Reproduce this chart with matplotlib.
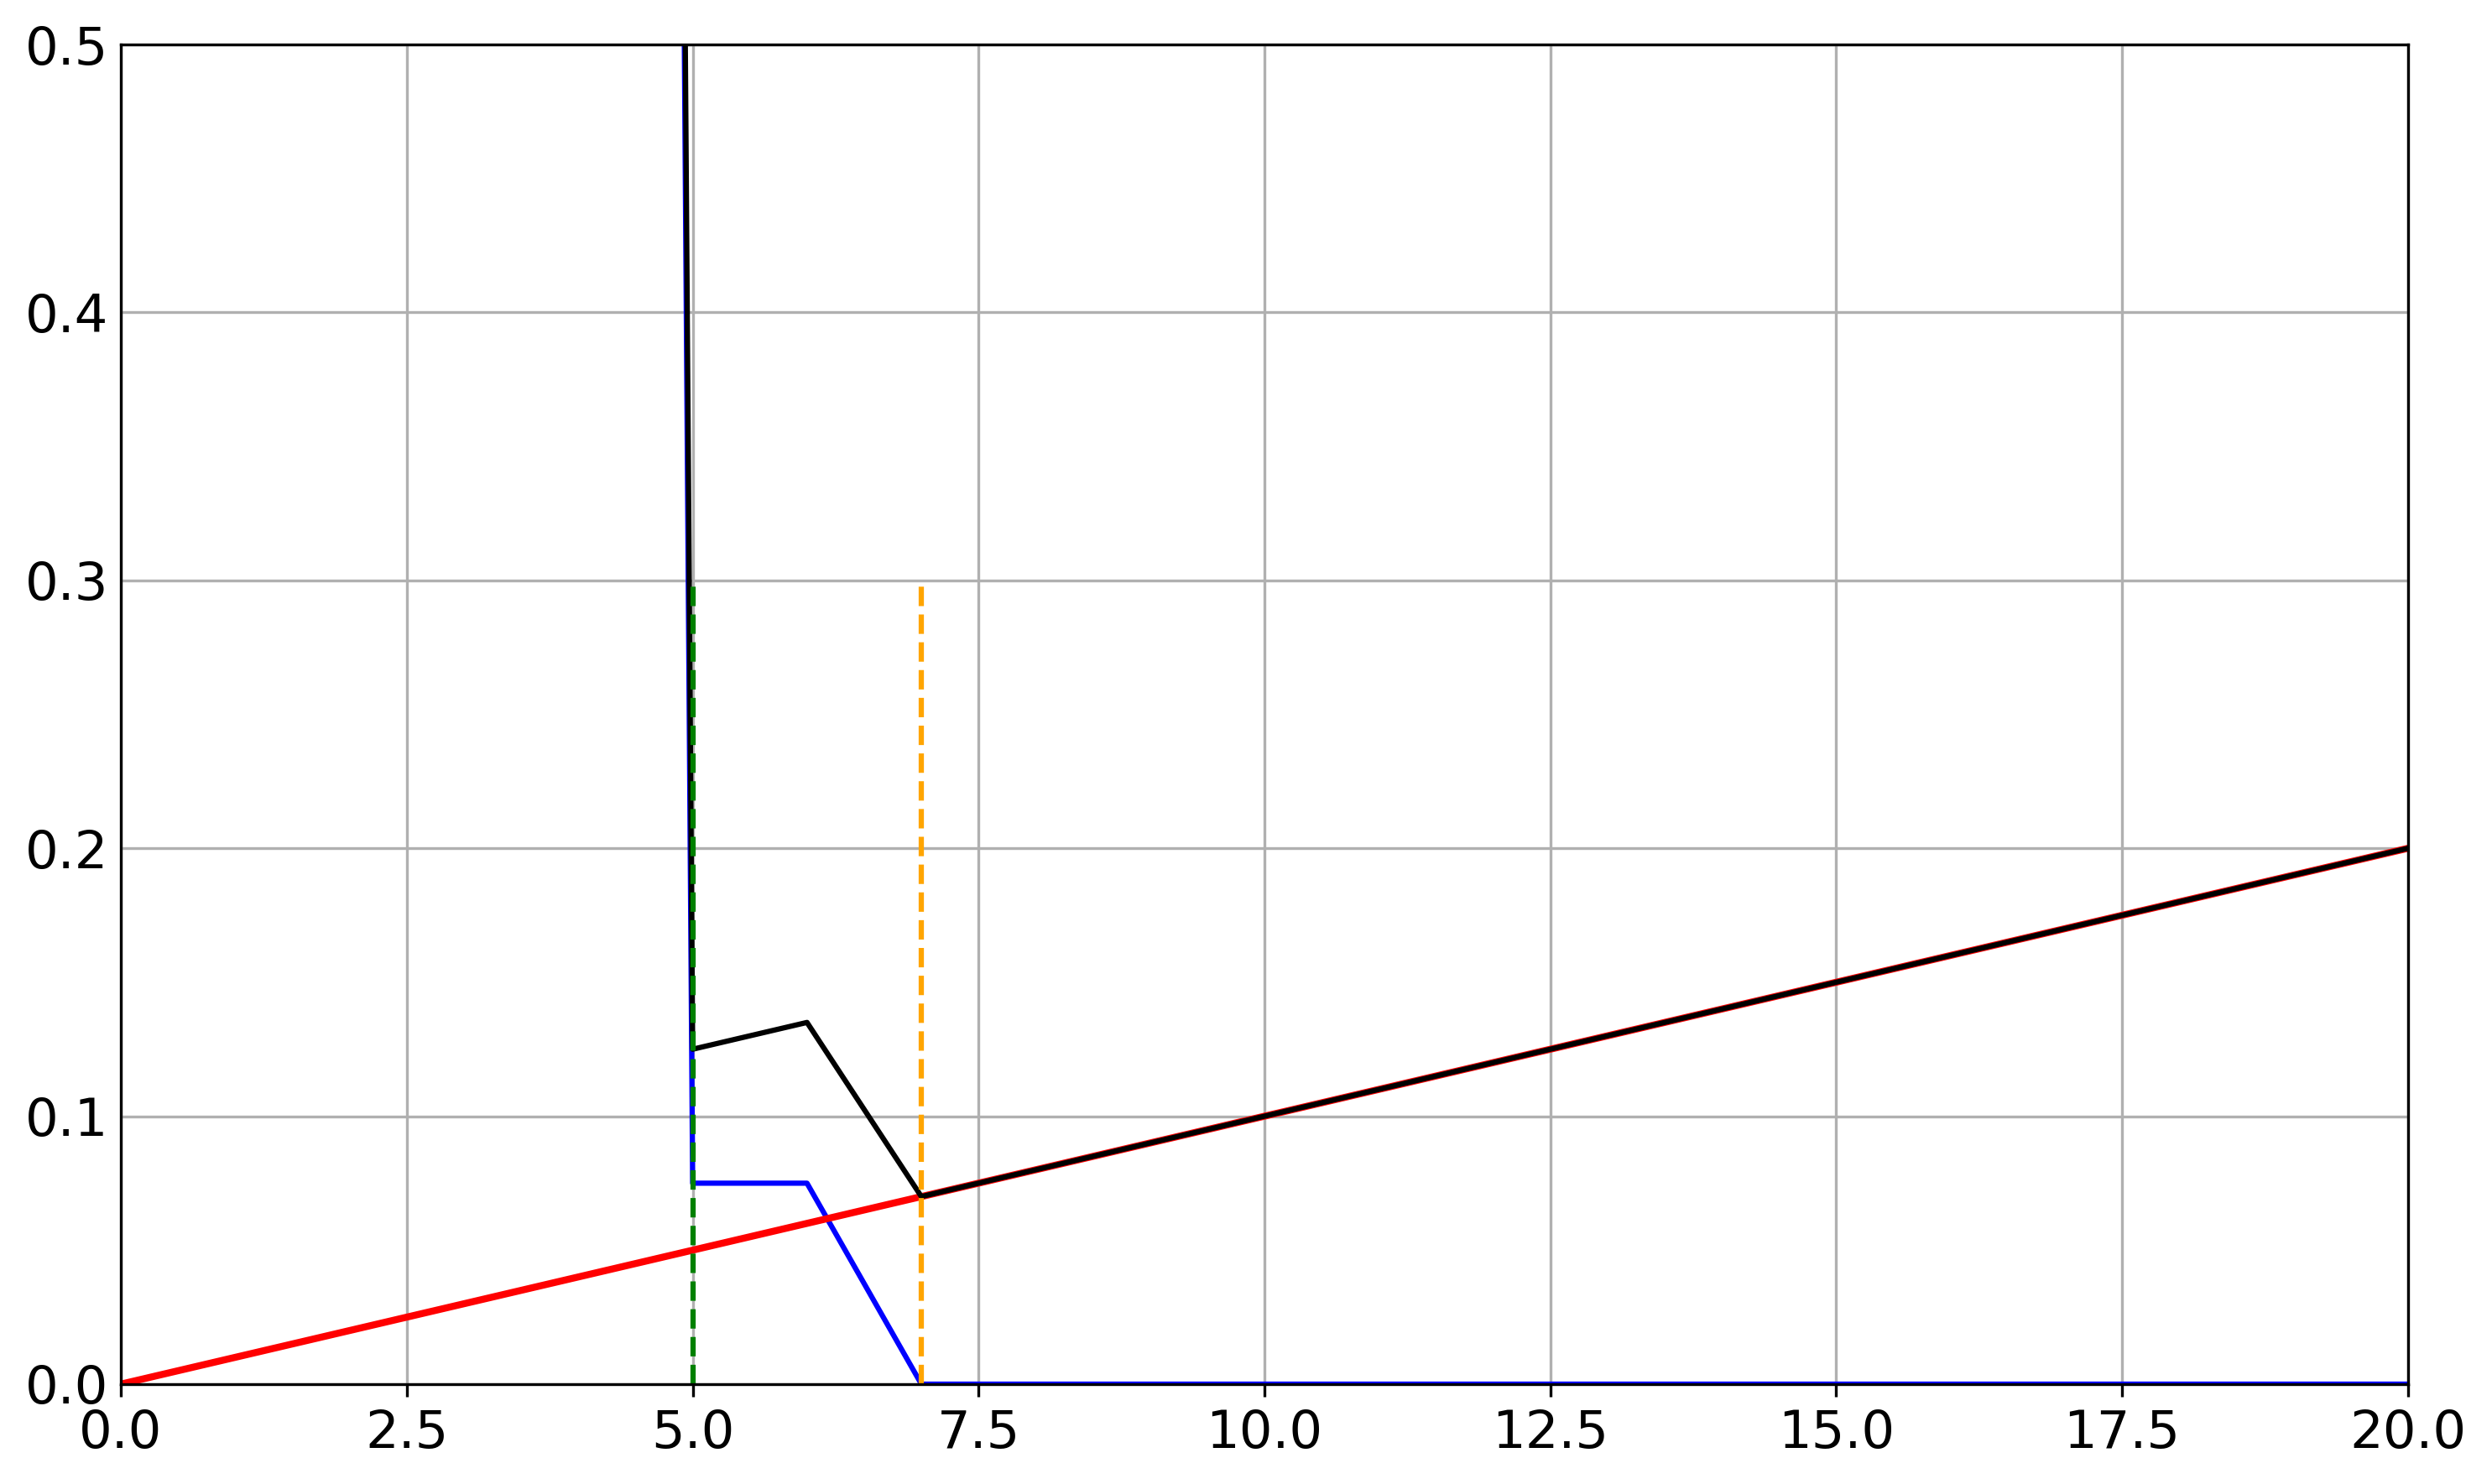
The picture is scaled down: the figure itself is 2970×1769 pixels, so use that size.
import numpy as np
import matplotlib
matplotlib.use("Agg")
import matplotlib.pyplot as plt

# sample points (x) and the curves
x = np.array([0.0, 4.9, 5.0, 6.0, 7.0, 20.0])
red = np.array([0.0, 0.049, 0.05, 0.06, 0.07, 0.2])     # straight line
blue = np.array([3.0, 0.66, 0.075, 0.075, 0.0, 0.0])    # steep drop then plateau
black = red + blue                                       # total

# vertical markers
vline_x = [5.0, 7.0]
vline_top = 0.3
vline_colors = ["green", "orange"]

fig = plt.figure(figsize=(9.9, 5.8967), dpi=300)
ax = fig.add_axes([0.0485, 0.0673, 0.9178, 0.9027])

ax.plot(x, blue, color="b", lw=1.5)
ax.plot(x, red, color="r", lw=2)
ax.plot(x, black, color="k", lw=1.5)
for xv, c in zip(vline_x, vline_colors):
    ax.plot([xv, xv], [0, vline_top], "--", color=c, lw=1.5)

ax.set_xlim(0, 20)
ax.set_ylim(0, 0.5)
ax.grid(True)
ax.tick_params(labelsize=15)
ax.tick_params(axis="y", length=0)

fig.savefig("out.png", dpi=300)
